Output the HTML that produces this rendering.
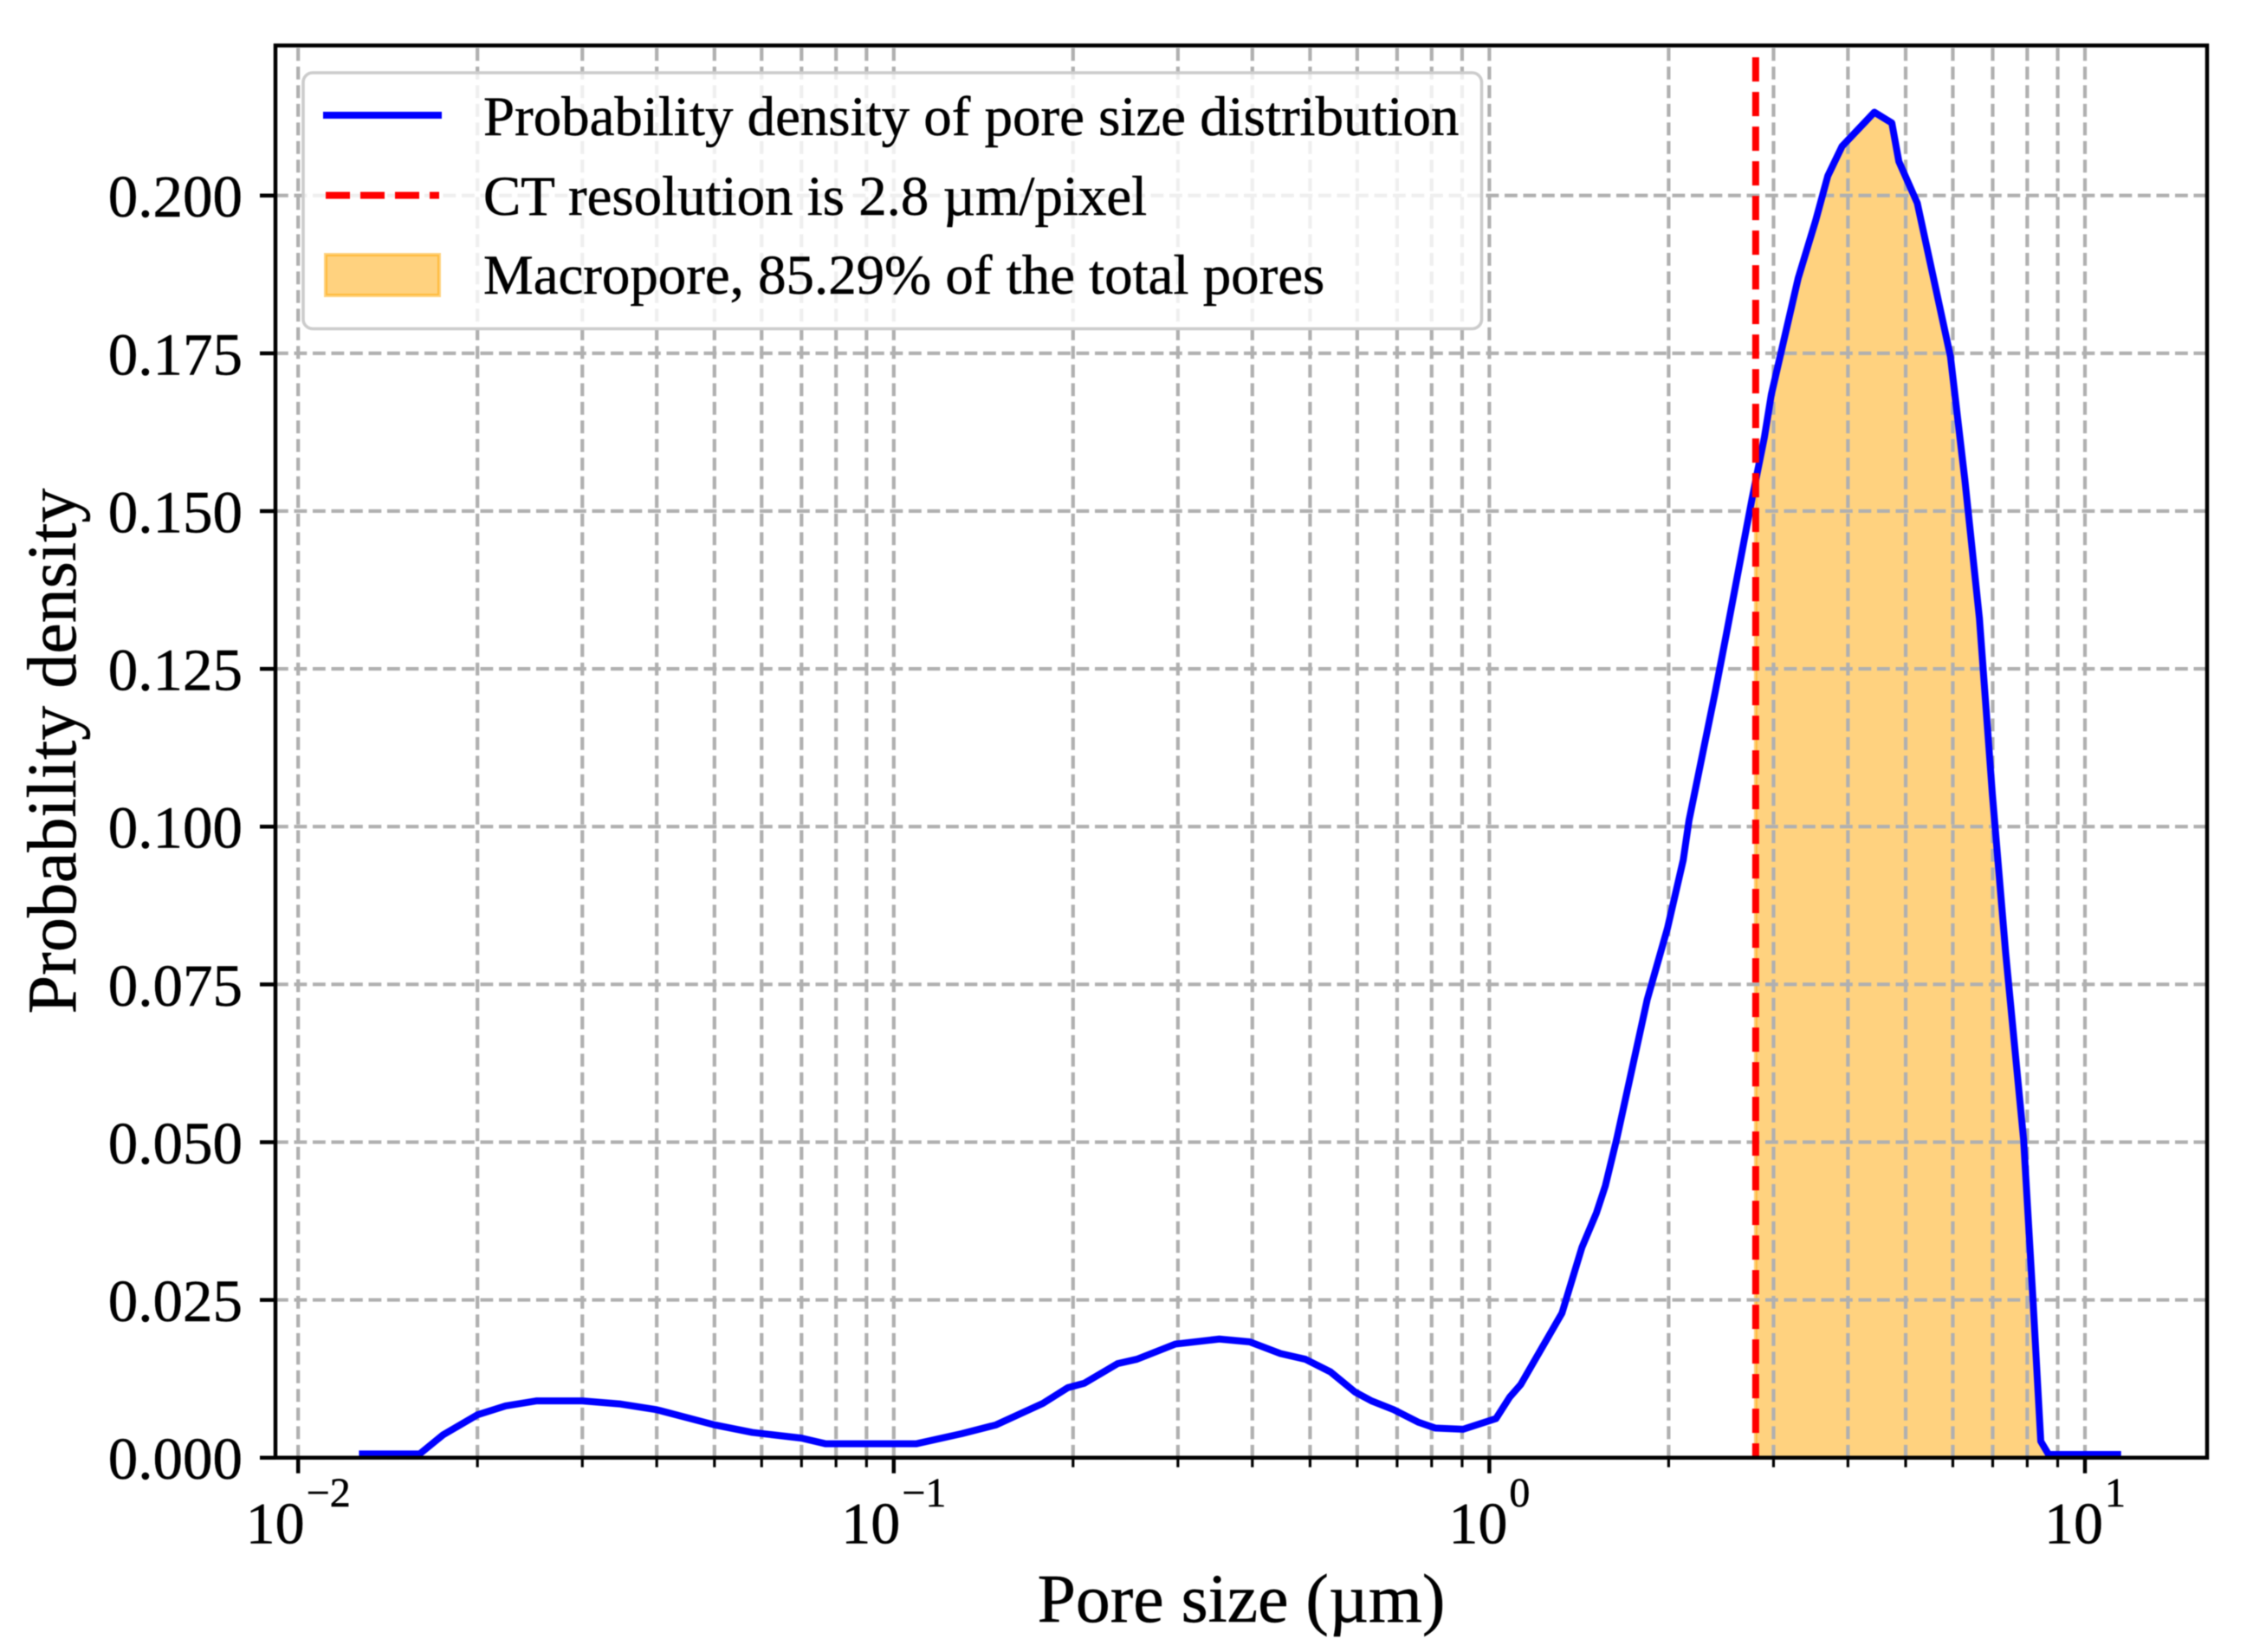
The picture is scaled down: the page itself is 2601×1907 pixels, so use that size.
<!DOCTYPE html>
<html lang="en">
<head>
<meta charset="utf-8">
<title>Pore size distribution</title>
<style>
html,body{margin:0;padding:0;background:#fff;}
svg{display:block;font-family:"Liberation Serif",serif;filter:blur(0.6px);}
text{stroke:#000;stroke-width:0.5px;}
</style>
</head>
<body>
<svg id="chart" xmlns="http://www.w3.org/2000/svg" width="2601" height="1907" viewBox="0 0 2601 1907">
  <rect x="0" y="0" width="2601" height="1907" fill="#ffffff"/>
  <g id="fill-layer"></g>
  <g id="grid-layer"></g>
  <g id="line-layer"></g>
  <g id="axis-layer"></g>
  <rect x="318" y="52.5" width="2230" height="1630.2" fill="none" stroke="#000" stroke-width="4.5"/>
  <text x="1433" y="1872" font-size="79.7" text-anchor="middle">Pore size (µm)</text>
  <text transform="translate(87 867) rotate(-90)" font-size="80" text-anchor="middle">Probability density</text>
  <g>
    <rect x="350" y="84" width="1360.5" height="295.5" rx="11" ry="11" fill="#ffffff" fill-opacity="0.8" stroke="#cccccc" stroke-width="3.6"/>
    <line x1="373" y1="133" x2="510" y2="133" stroke="#0000ff" stroke-width="8"/>
    <text x="558" y="156" font-size="64.9">Probability density of pore size distribution</text>
    <line x1="376" y1="225.5" x2="507" y2="225.5" stroke="#ff0000" stroke-width="8" stroke-dasharray="28 12"/>
    <text x="558" y="248" font-size="64.9">CT resolution is 2.8 µm/pixel</text>
    <rect x="376" y="294" width="131" height="47" fill="#ffa500" fill-opacity="0.5" stroke="#ffa500" stroke-opacity="0.5" stroke-width="4"/>
    <text x="558" y="339" font-size="64.9">Macropore, 85.29% of the total pores</text>
  </g>
</svg>
<script>
const poreSize = [0.01265,0.016,0.0175,0.02,0.0223,0.0251,0.03,0.0348,0.04,0.05,0.0579,0.07,0.0769,0.109,0.13,0.1485,0.178,0.196,0.209,0.2375,0.256,0.297,0.352,0.396,0.446,0.491,0.541,0.595,0.634,0.691,0.761,0.811,0.903,1.026,1.082,1.129,1.324,1.43,1.513,1.566,1.637,1.841,1.991,2.116,2.164,2.393,2.5,2.76,2.896,2.975,3.30,3.53,3.70,3.91,4.43,4.74,4.87,5.23,5.945,6.285,6.65,6.99,7.36,7.89,8.18,8.43,8.69,11.5];
const density = [0.0006,0.0006,0.0036,0.0068,0.0082,0.009,0.009,0.0085,0.0076,0.0052,0.004,0.0031,0.0022,0.0022,0.0038,0.0052,0.0086,0.0111,0.0118,0.0149,0.0156,0.018,0.0188,0.01835,0.0165,0.0156,0.0136,0.0104,0.009,0.0076,0.0056,0.0047,0.0045,0.0062,0.0096,0.0116,0.0229,0.0333,0.0388,0.0431,0.0506,0.0726,0.0839,0.0947,0.101,0.1212,0.1305,0.1519,0.1617,0.1685,0.1869,0.196,0.2031,0.2078,0.2132,0.2115,0.2054,0.1988,0.1745,0.155,0.133,0.1052,0.08,0.0503,0.025,0.0026,0.0005,0.0005];
const resolutionSize = 2.8;
const resolutionTop = 0.2219;
const xMajorTicks = [0.01,0.1,1,10];
const xMajorExponents = ["−2","−1","0","1"];
const xMinorDecades = [0.01,0.1,1];
const xMinorFactors = [2,3,4,5,6,7,8,9];
const yTicks = [0,0.025,0.05,0.075,0.1,0.125,0.15,0.175,0.2];
const yTickLabels = ["0.000","0.025","0.050","0.075","0.100","0.125","0.150","0.175","0.200"];

const SVGNS = "http://www.w3.org/2000/svg";
const AX_LEFT = 318, AX_RIGHT = 2548, AX_TOP = 52.5, AX_BOTTOM = 1682.7;
function xScale(v){ return 1719.4 + 687.6 * Math.log10(v); }
function yScale(v){ return AX_BOTTOM - 7285 * v; }
function make(tag, attrs, parentId){
  const el = document.createElementNS(SVGNS, tag);
  for (const k in attrs) el.setAttribute(k, attrs[k]);
  document.getElementById(parentId).appendChild(el);
  return el;
}
function densityAt(size){
  for (let i = 0; i < poreSize.length - 1; i++){
    if (size >= poreSize[i] && size <= poreSize[i+1]){
      const t = (Math.log10(size) - Math.log10(poreSize[i])) / (Math.log10(poreSize[i+1]) - Math.log10(poreSize[i]));
      return density[i] + t * (density[i+1] - density[i]);
    }
  }
  return 0;
}

/* macropore fill */
let fillPts = [[xScale(resolutionSize), yScale(0)], [xScale(resolutionSize), yScale(densityAt(resolutionSize))]];
let fillEnd = resolutionSize;
for (let i = 0; i < poreSize.length; i++){
  if (poreSize[i] > resolutionSize && density[i] > 0.001){
    fillPts.push([xScale(poreSize[i]), yScale(density[i])]);
    fillEnd = poreSize[i];
  }
}
fillPts.push([xScale(fillEnd * 1.03), yScale(0)]);
const fillEl = make("polygon", {points: fillPts.map(p => p.join(",")).join(" "), fill: "#ffa500", "fill-opacity": 0.5, stroke: "#ffa500", "stroke-opacity": 0.5, "stroke-width": 4}, "fill-layer");



/* grid */
const gridDash = "14.8 6.7";
const allXTicks = xMajorTicks.slice();
xMinorDecades.forEach(d => xMinorFactors.forEach(f => allXTicks.push(d * f)));
allXTicks.forEach(v => {
  const g = make("line", {x1: xScale(v), x2: xScale(v), y1: AX_BOTTOM, y2: AX_TOP, stroke: "#b0b0b0", "stroke-width": 4.2, "stroke-dasharray": gridDash}, "grid-layer");
  
  
});
yTicks.forEach(v => {
  const g = make("line", {x1: AX_LEFT, x2: AX_RIGHT, y1: yScale(v), y2: yScale(v), stroke: "#b0b0b0", "stroke-width": 4.2, "stroke-dasharray": gridDash}, "grid-layer");
  
  
});

/* density line */
const linePts = poreSize.map((s, i) => xScale(s) + "," + yScale(density[i])).join(" ");
const lineEl = make("polyline", {points: linePts, fill: "none", stroke: "#0000ff", "stroke-width": 8, "stroke-linejoin": "round"}, "line-layer");



/* resolution marker */
const resEl = make("line", {x1: xScale(resolutionSize), x2: xScale(resolutionSize), y1: yScale(resolutionTop), y2: yScale(0), stroke: "#ff0000", "stroke-width": 8, "stroke-dasharray": "28 12"}, "line-layer");



/* y ticks and labels */
yTicks.forEach((v, i) => {
  const t = make("line", {x1: 300, x2: AX_LEFT, y1: yScale(v), y2: yScale(v), stroke: "#000", "stroke-width": 4.5}, "axis-layer");
  
  
  const l = make("text", {x: 280, y: yScale(v) + 24.5, "font-size": 69, "text-anchor": "end"}, "axis-layer");
  l.textContent = yTickLabels[i];
  
  
});

/* x ticks and labels */
xMinorDecades.forEach(d => xMinorFactors.forEach(f => {
  const t = make("line", {x1: xScale(d * f), x2: xScale(d * f), y1: AX_BOTTOM, y2: AX_BOTTOM + 11, stroke: "#000", "stroke-width": 3.2}, "axis-layer");
  
  
}));
xMajorTicks.forEach((v, i) => {
  const t = make("line", {x1: xScale(v), x2: xScale(v), y1: AX_BOTTOM, y2: AX_BOTTOM + 18, stroke: "#000", "stroke-width": 4.5}, "axis-layer");
  
  
  const l = make("text", {x: xScale(v), y: 1781.5, "font-size": 68, "text-anchor": "middle"}, "axis-layer");
  
  
  const base = document.createElementNS(SVGNS, "tspan");
  base.textContent = "10";
  l.appendChild(base);
  const sup = document.createElementNS(SVGNS, "tspan");
  sup.setAttribute("font-size", 48);
  sup.setAttribute("dx", 2);
  sup.setAttribute("dy", -42.5);
  sup.textContent = xMajorExponents[i];
  l.appendChild(sup);
});
</script>
</body>
</html>
